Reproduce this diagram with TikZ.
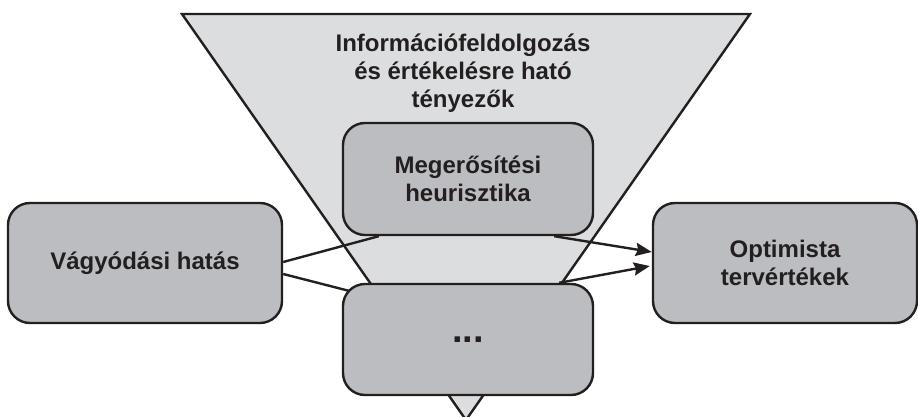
\documentclass[tikz,border=0pt]{standalone}
\usepackage{fontspec}
\setmainfont{Liberation Sans}
\usetikzlibrary{arrows.meta,calc}
\definecolor{ink}{HTML}{231F20}
\definecolor{funnel}{HTML}{DCDDDF}
\definecolor{boxfill}{HTML}{BCBDC0}
\pgfdeclarelayer{bg}
\pgfdeclarelayer{mid}
\pgfsetlayers{bg,mid,main}
\tikzset{
  box/.style={draw=ink, line width=2.4pt, fill=boxfill, rounded corners=22pt, inner sep=0pt,
    align=center, font=\bfseries\fontsize{24}{28}\selectfont, text=ink},
  conn/.style={draw=ink, line width=2.4pt},
  arr/.style={conn, -{Stealth[length=16pt,width=13pt,inset=2pt]}}
}
\begin{document}
\begin{tikzpicture}[x=1pt,y=-1pt]
\useasboundingbox (0,0) rectangle (918,417);
% boxes
\node[box, minimum width=274pt, minimum height=120pt] (v) at (145,263) {Vágyódási hatás};
\node[box, minimum width=264pt, minimum height=120pt] (o) at (785,263) {Optimista\\tervértékek};
\node[box, minimum width=250pt, minimum height=112pt] (m) at (468,179) {Megerősítési\\heurisztika};
\node[box, minimum width=250pt, minimum height=111pt, font=\bfseries\fontsize{38}{38}\selectfont] (d) at (468,339.5) {...};
% funnel
\begin{pgfonlayer}{bg}
\draw[draw=ink, line width=2.4pt, fill=funnel, line join=miter]
  (182,14) coordinate (f1) -- (750,14) coordinate (f2) -- (466,420) coordinate (f3) -- cycle;
\end{pgfonlayer}
\node[font=\bfseries\fontsize{24}{28}\selectfont, text=ink, align=center] (title) at (463,73)
  {Információfeldolgozás\\és értékelésre ható\\tényezők};
% connectors
\coordinate (m1) at ($(m.south west)+(37,0)$);
\coordinate (m2) at ($(m.south east)+(-40,0)$);
\coordinate (d1) at ($(d.north west)+(7,8)$);
\coordinate (d2) at ($(d.north east)+(-35,0)$);
\begin{pgfonlayer}{mid}
\draw[conn] ($(v.east)+(0,-1)$) -- (m1);
\draw[conn] ($(v.east)+(0,11)$) -- (d1);
\end{pgfonlayer}
\draw[arr] (m2) -- ($(o.west)+(0,-11)$);
\draw[arr] (d2) -- ($(o.west)+(-2,3)$);
\end{tikzpicture}
\end{document}
